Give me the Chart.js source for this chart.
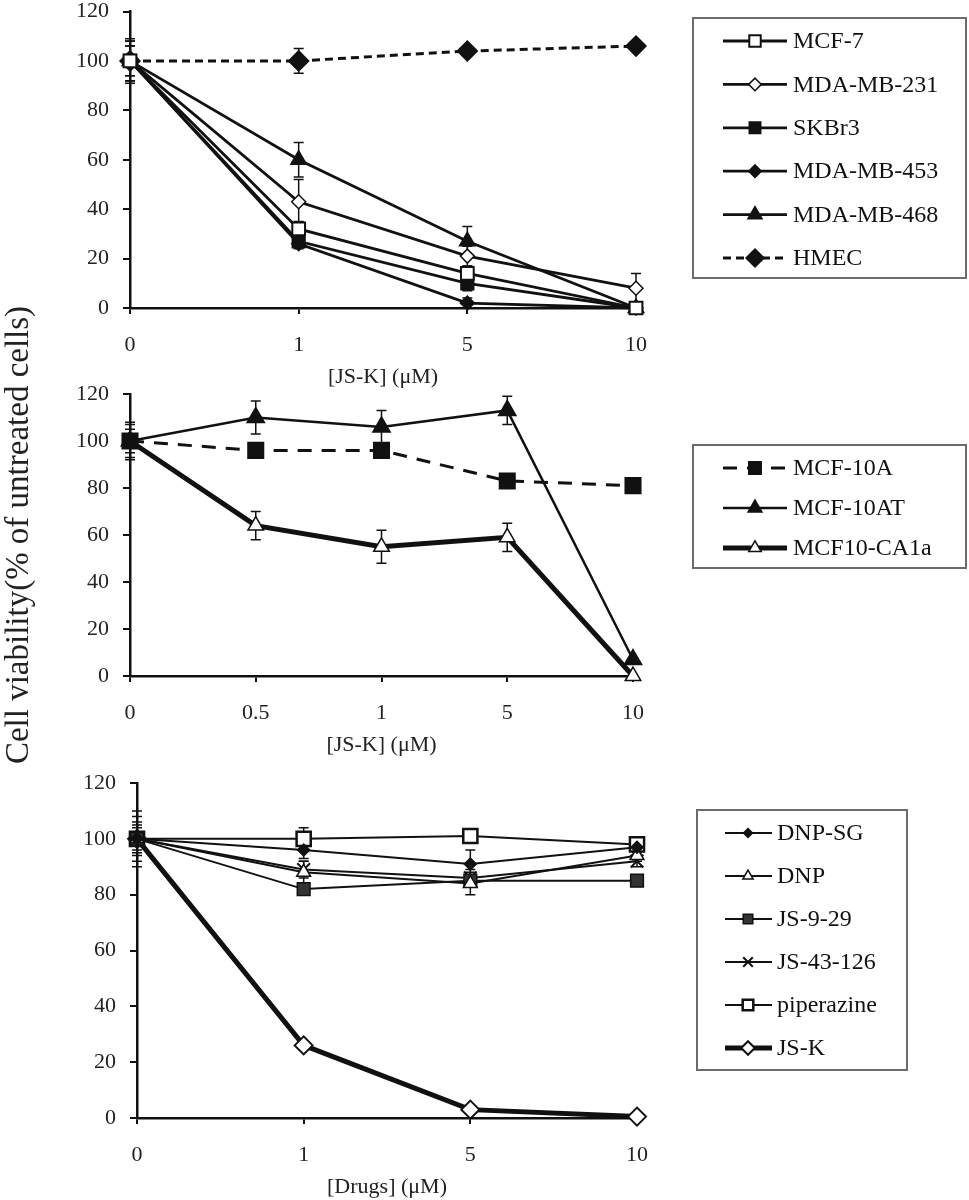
<!DOCTYPE html>
<html lang="en">
<head>
<meta charset="UTF-8">
<title>Cell viability</title>
<script src="https://cdn.jsdelivr.net/npm/chart.js"></script>
<style>
  body { margin: 0; background: #fff; }
  #wrap { position: relative; width: 969px; height: 1200px; }
  canvas { position: absolute; left: 0; }
</style>
</head>
<body>
<div id="wrap">
  <canvas id="chartA" width="969" height="390" style="top:0px"></canvas>
  <canvas id="chartB" width="969" height="490" style="top:290px"></canvas>
  <canvas id="chartC" width="969" height="430" style="top:770px"></canvas>
</div>
<script>
// panel A: breast cancer lines, JS-K
const dosesA = ['0', '1', '5', '10'];
const mcf7 = [100, 32, 14, 0];
const mcf7Err = [8, 3, 3, 0];
const mda231 = [100, 43, 21, 8];
const mda231Err = [6, 9, 4, 6];
const skbr3 = [100, 27, 10, 0];
const skbr3Err = [6, 2, 3, 0];
const mda453 = [100, 26, 2, 0];
const mda453Err = [8, 2, 2, 0];
const mda468 = [100, 60, 27, 0];
const mda468Err = [8, 7, 6, 0];
const hmec = [100, 100, 104, 106];
const hmecErr = [9, 5, 1, 1];

// panel B: MCF-10 series, JS-K
const dosesB = ['0', '0.5', '1', '5', '10'];
const mcf10a = [100, 96, 96, 83, 81];
const mcf10aErr = [7, 3, 3, 2, 3];
const mcf10at = [100, 110, 106, 113, 7];
const mcf10atErr = [5, 7, 7, 6, 0];
const ca1a = [100, 64, 55, 59, 0];
const ca1aErr = [8, 6, 7, 6, 0];

// panel C: drugs on one line
const dosesC = ['0', '1', '5', '10'];
const dnpSg = [100, 96, 91, 97];
const dnpSgErr = [8, 3, 5, 2];
const dnp = [100, 88, 84, 94];
const dnpErr = [6, 4, 4, 2];
const js929 = [100, 82, 85, 85];
const js929Err = [5, 2, 2, 1];
const js43126 = [100, 89, 86, 92];
const js43126Err = [4, 3, 3, 2];
const piperazine = [100, 100, 101, 98];
const piperazineErr = [10, 4, 2, 2];
const jsk = [100, 26, 3, 0.5];
const jskErr = [2, 1, 1, 0];

const serif = "'Liberation Serif', 'Times New Roman', serif";
const ink = '#111';

function series(label, values, errors, style) {
  return Object.assign({
    label: label, data: values, errors: errors,
    borderColor: ink, backgroundColor: ink,
    pointBackgroundColor: ink, pointBorderColor: ink,
    borderWidth: 2.8, pointBorderWidth: 1.5, pointRadius: 8,
    pointStyle: 'rect', tension: 0, clip: false
  }, style);
}

const errorBars = {
  id: 'errorBars',
  beforeDatasetsDraw(chart) {
    const ctx = chart.ctx, y = chart.scales.y;
    ctx.save();
    ctx.strokeStyle = ink;
    ctx.lineWidth = 1.5;
    chart.data.datasets.forEach((ds, i) => {
      if (!ds.errors) return;
      chart.getDatasetMeta(i).data.forEach((pt, j) => {
        const e = ds.errors[j];
        if (!e) return;
        const v = ds.data[j];
        const top = y.getPixelForValue(v + e);
        const bot = y.getPixelForValue(Math.max(v - e, 0));
        ctx.beginPath();
        ctx.moveTo(pt.x, top); ctx.lineTo(pt.x, bot);
        ctx.moveTo(pt.x - 5, top); ctx.lineTo(pt.x + 5, top);
        ctx.moveTo(pt.x - 5, bot); ctx.lineTo(pt.x + 5, bot);
        ctx.stroke();
      });
    });
    ctx.restore();
  }
};

const boxLegend = {
  id: 'boxLegend',
  afterDraw(chart, args, o) {
    if (!o || !o.w) return;
    const ctx = chart.ctx;
    ctx.save();
    ctx.strokeStyle = '#6b6b6b';
    ctx.lineWidth = 2;
    ctx.strokeRect(o.x, o.y, o.w, o.h);
    ctx.font = '24px ' + serif;
    ctx.textBaseline = 'middle';
    chart.data.datasets.forEach((ds, i) => {
      const cy = o.first + i * o.step;
      ctx.setLineDash(ds.borderDash || []);
      ctx.lineWidth = ds.borderWidth;
      ctx.strokeStyle = ds.borderColor;
      ctx.beginPath();
      ctx.moveTo(o.lineX0, cy);
      ctx.lineTo(o.lineX1, cy);
      ctx.stroke();
      ctx.setLineDash([]);
      ctx.fillStyle = ds.pointBackgroundColor;
      ctx.strokeStyle = ds.pointBorderColor;
      ctx.lineWidth = ds.pointBorderWidth;
      Chart.helpers.drawPoint(ctx, {
        pointStyle: ds.pointStyle, radius: ds.pointRadius * o.markScale,
        borderWidth: ds.pointBorderWidth, rotation: 0
      }, o.markX, cy);
      ctx.fillStyle = ink;
      ctx.fillText(ds.label, o.textX, cy + 1);
    });
    ctx.restore();
  }
};

function panel(id, labels, datasets, p) {
  const axisFont = { family: serif, size: 22 };
  return new Chart(document.getElementById(id), {
    type: 'line',
    data: { labels: labels, datasets: datasets },
    options: {
      responsive: false,
      animation: false,
      events: [],
      layout: { padding: { left: 0, top: p.top, right: 969 - p.right, bottom: 0 } },
      plugins: {
        legend: { display: false },
        tooltip: { enabled: false },
        boxLegend: p.legend
      },
      scales: {
        x: {
          type: 'category', offset: false,
          grid: { display: true, drawOnChartArea: false, drawTicks: true, tickLength: 6, color: ink, lineWidth: 2, offset: false },
          border: { display: true, color: ink, width: 2.5 },
          ticks: { color: '#222', font: axisFont, padding: 18, maxRotation: 0, autoSkip: false },
          title: { display: true, text: p.xTitle, color: '#222', font: axisFont, padding: { top: 0, bottom: p.titleBottom } },
          afterFit(s) { s.height = p.xHeight; s.paddingLeft = 0; s.paddingRight = 0; }
        },
        y: {
          min: 0, max: 120,
          grid: { display: true, drawOnChartArea: false, drawTicks: true, tickLength: 7, color: ink, lineWidth: 2 },
          border: { display: true, color: ink, width: 2.5 },
          ticks: { stepSize: 20, color: '#222', font: axisFont, padding: 14 },
          title: p.yTitle
            ? { display: true, text: p.yTitle, color: '#222', font: { family: serif, size: 33, lineHeight: 1.2 }, padding: 0 }
            : { display: false },
          afterFit(s) { s.width = p.yWidth; s.paddingTop = 0; s.paddingBottom = 0; }
        }
      }
    },
    plugins: [errorBars, boxLegend]
  });
}

panel('chartA', dosesA, [
  series('MCF-7', mcf7, mcf7Err, { pointStyle: 'rect', pointRadius: 9, pointBackgroundColor: '#fff', pointBorderWidth: 2 }),
  series('MDA-MB-231', mda231, mda231Err, { pointStyle: 'rectRot', pointRadius: 7, pointBackgroundColor: '#fff', pointBorderWidth: 1.5 }),
  series('SKBr3', skbr3, skbr3Err, { pointStyle: 'rect', pointRadius: 9 }),
  series('MDA-MB-453', mda453, mda453Err, { pointStyle: 'rectRot', pointRadius: 7 }),
  series('MDA-MB-468', mda468, mda468Err, { pointStyle: 'triangle', pointRadius: 9 }),
  series('HMEC', hmec, hmecErr, { pointStyle: 'rectRot', pointRadius: 10, borderWidth: 3, borderDash: [8, 5] })
], {
  top: 9, right: 636, yWidth: 130, xHeight: 82, titleBottom: 0,
  xTitle: '[JS-K] (μM)',
  legend: { x: 693, y: 18, w: 273, h: 260, first: 41, step: 43.4, lineX0: 723, lineX1: 787, markX: 755, textX: 793, markScale: 0.9 }
});

// canvas B starts at page y 290 so the long y title has room
panel('chartB', dosesB, [
  series('MCF-10A', mcf10a, mcf10aErr, { pointStyle: 'rect', pointRadius: 11, borderWidth: 3, borderDash: [14, 10] }),
  series('MCF-10AT', mcf10at, mcf10atErr, { pointStyle: 'triangle', pointRadius: 10, borderWidth: 2.5 }),
  series('MCF10-CA1a', ca1a, ca1aErr, { pointStyle: 'triangle', pointRadius: 9, pointBackgroundColor: '#fff', pointBorderWidth: 1.5, borderWidth: 5 })
], {
  top: 104, right: 633, yWidth: 130, xHeight: 104, titleBottom: 22,
  xTitle: '[JS-K] (μM)',
  yTitle: 'Cell viability(% of untreated cells)',
  legend: { x: 693, y: 155, w: 273, h: 123, first: 178, step: 40, lineX0: 723, lineX1: 787, markX: 755, textX: 793, markScale: 0.8 }
});

panel('chartC', dosesC, [
  series('DNP-SG', dnpSg, dnpSgErr, { pointStyle: 'rectRot', pointRadius: 6, borderWidth: 2 }),
  series('DNP', dnp, dnpErr, { pointStyle: 'triangle', pointRadius: 8, pointBackgroundColor: '#fff', borderWidth: 2 }),
  series('JS-9-29', js929, js929Err, { pointStyle: 'rect', pointRadius: 9, pointBackgroundColor: '#333', borderWidth: 2 }),
  series('JS-43-126', js43126, js43126Err, { pointStyle: 'crossRot', pointRadius: 9, pointBorderWidth: 2, borderWidth: 2 }),
  series('piperazine', piperazine, piperazineErr, { pointStyle: 'rect', pointRadius: 10, pointBackgroundColor: '#fff', pointBorderWidth: 2.5, borderWidth: 2 }),
  series('JS-K', jsk, jskErr, { pointStyle: 'rectRot', pointRadius: 9, pointBackgroundColor: '#fff', pointBorderWidth: 2, borderWidth: 5 })
], {
  top: 13, right: 637, yWidth: 137, xHeight: 82, titleBottom: 0,
  xTitle: '[Drugs] (μM)',
  legend: { x: 697, y: 40, w: 210, h: 260, first: 63, step: 43, lineX0: 725, lineX1: 772, markX: 748, textX: 777, markScale: 0.75 }
});
</script>
</body>
</html>
